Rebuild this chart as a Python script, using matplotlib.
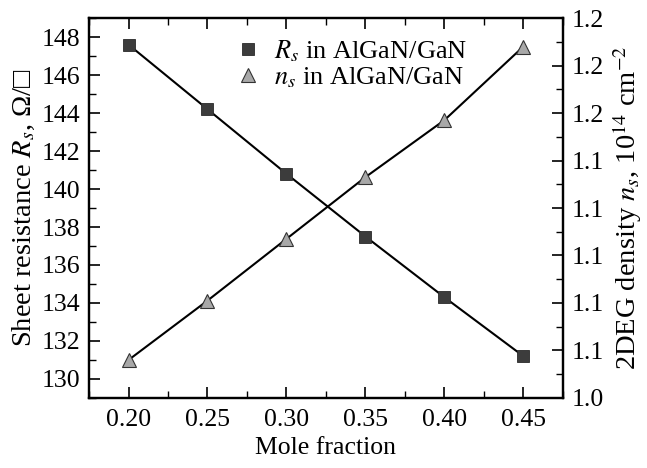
import numpy as np
import matplotlib
matplotlib.use('Agg')
import matplotlib.pyplot as plt
from matplotlib.lines import Line2D
from matplotlib.ticker import MultipleLocator, FixedLocator, FormatStrFormatter

mole_fraction = [0.20, 0.25, 0.30, 0.35, 0.40, 0.45]
rs_values = [147.6, 144.2, 140.8, 137.5, 134.3, 131.2]
ns_values = [1.056, 1.081, 1.107, 1.133, 1.157, 1.188]
x_ticks = [0.20, 0.25, 0.30, 0.35, 0.40, 0.45]
ns_ticks = [1.04, 1.06, 1.08, 1.10, 1.12, 1.14, 1.16, 1.18, 1.20]

plt.rcParams['font.family'] = ['Liberation Serif', 'DejaVu Serif']
plt.rcParams['mathtext.fontset'] = 'stix'
plt.rcParams['font.size'] = 18.5

fig, ax = plt.subplots(figsize=(6.47, 4.68), dpi=100)
fig.subplots_adjust(left=0.1376, right=0.870, bottom=0.1496, top=0.9615)
ax2 = ax.twinx()

sq_style = dict(marker='s', markersize=8, markerfacecolor='#3c3c3c',
                markeredgecolor='#2a2a2a', markeredgewidth=0.6)
tri_style = dict(marker='^', markersize=10, markerfacecolor='#a8a8a8',
                 markeredgecolor='#333333', markeredgewidth=0.8)

ax.plot(mole_fraction, rs_values, color='black', lw=1.5, zorder=3, **sq_style)
ax2.plot(mole_fraction, ns_values, color='black', lw=1.5, zorder=3, **tri_style)

ax.set_xlim(0.175, 0.475)
ax.set_ylim(129, 149)
ax2.set_ylim(1.04, 1.20)

ax.xaxis.set_major_locator(FixedLocator(x_ticks))
ax.xaxis.set_minor_locator(MultipleLocator(0.025))
ax.xaxis.set_major_formatter(FormatStrFormatter('%.2f'))
ax.yaxis.set_major_locator(MultipleLocator(2))
ax.yaxis.set_minor_locator(MultipleLocator(1))
ax2.yaxis.set_major_locator(FixedLocator(ns_ticks))
ax2.yaxis.set_minor_locator(MultipleLocator(0.01))
ax2.yaxis.set_major_formatter(FormatStrFormatter('%.1f'))

for a in (ax, ax2):
    a.tick_params(which='major', direction='in', length=8, width=1.2)
    a.tick_params(which='minor', direction='in', length=5, width=1.0)
    for sp in a.spines.values():
        sp.set_linewidth(1.6)
ax.tick_params(axis='x', which='both', top=True, pad=8)
ax.tick_params(axis='y', pad=6)
ax2.tick_params(axis='y', pad=6)

ax.set_xlabel('Mole fraction', labelpad=4)
ax.set_ylabel(r'Sheet resistance $R_s$, Ω/□', fontsize=20.5, labelpad=4)
ax2.set_ylabel(r'2DEG density $n_s$, 10$^{14}$ cm$^{-2}$', fontsize=20.5, labelpad=5)

handles = [Line2D([], [], linestyle='none', **sq_style),
           Line2D([], [], linestyle='none', **tri_style)]
labels = [r'$R_s$ in AlGaN/GaN', r'$n_s$ in AlGaN/GaN']
ax.legend(handles, labels, loc='upper left', bbox_to_anchor=(0.285, 0.975),
          frameon=False, handlelength=1.0, handletextpad=0.5, fontsize=19,
          labelspacing=0.05, borderaxespad=0)

plt.savefig('out.png', dpi=100)
